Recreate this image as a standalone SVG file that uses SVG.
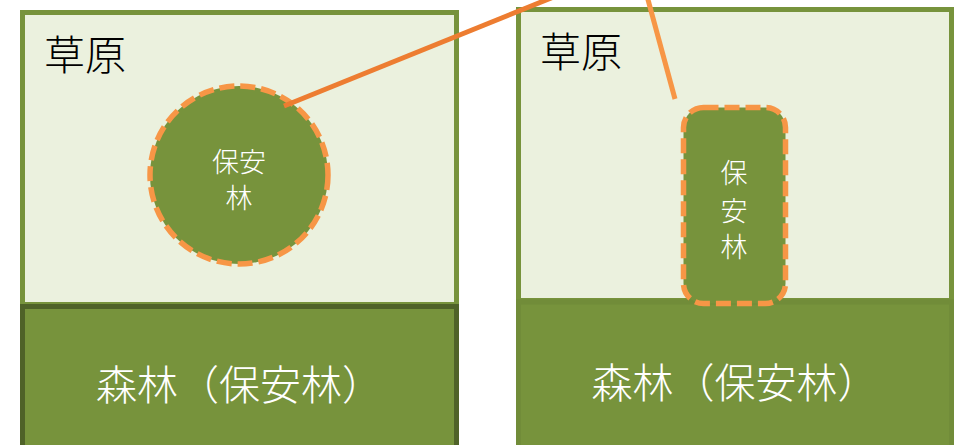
<svg xmlns="http://www.w3.org/2000/svg" width="957" height="445" viewBox="0 0 957 445">
<style>
.grass{fill:#ebf1de;stroke:#77933c;stroke-width:5}
.forest{fill:#77933c;stroke:#718c39;stroke-width:5}
.forestL{fill:#77933c;stroke:#4f6228;stroke-width:5}
.pf{fill:#77933c;stroke:#f79646;stroke-width:5.5;stroke-dasharray:15 6}
.t{font-family:"Noto Sans CJK JP","Noto Sans CJK SC",sans-serif;font-weight:300;dominant-baseline:central}
.big{font-size:41px}
.sm{font-size:27px;text-anchor:middle;fill:#ffffff}
.k{fill:#000000}
.w{fill:#ffffff;text-anchor:middle}
.con{fill:none;stroke-width:5}
</style>
<rect width="957" height="445" fill="#ffffff"/>
<g id="left-grass">
<rect class="grass" x="22.5" y="12.5" width="434" height="292"/>
<text class="t big k" x="44" y="51.5">草原</text>
</g>
<g id="left-forest">
<rect class="forestL" x="22.5" y="306.5" width="434" height="150"/>
<text class="t big w" x="239.5" y="382">森林（保安林）</text>
</g>
<g id="left-protect">
<circle class="pf" cx="239" cy="175" r="89"/>
<text class="t sm" x="239" y="160">保安</text>
<text class="t sm" x="239" y="196.5">林</text>
</g>
<g id="right-grass">
<rect class="grass" x="518.5" y="9.5" width="433" height="291"/>
<text class="t big k" x="540" y="48.5">草原</text>
</g>
<g id="right-forest">
<rect class="forest" x="518.5" y="302" width="433" height="155"/>
<text class="t big w" x="735" y="379.5">森林（保安林）</text>
</g>
<g id="right-protect">
<rect class="pf" x="683.5" y="107.5" width="102" height="196" rx="20"/>
<text class="t sm" x="734" y="171.5">保</text>
<text class="t sm" x="734" y="209">安</text>
<text class="t sm" x="734" y="245.5">林</text>
</g>
<g id="connectors">
<line class="con" x1="284" y1="106" x2="556" y2="-4" stroke="#ed7d31"/>
<line class="con" x1="647" y1="-4" x2="675" y2="99" stroke="#f79646"/>
</g>
</svg>
